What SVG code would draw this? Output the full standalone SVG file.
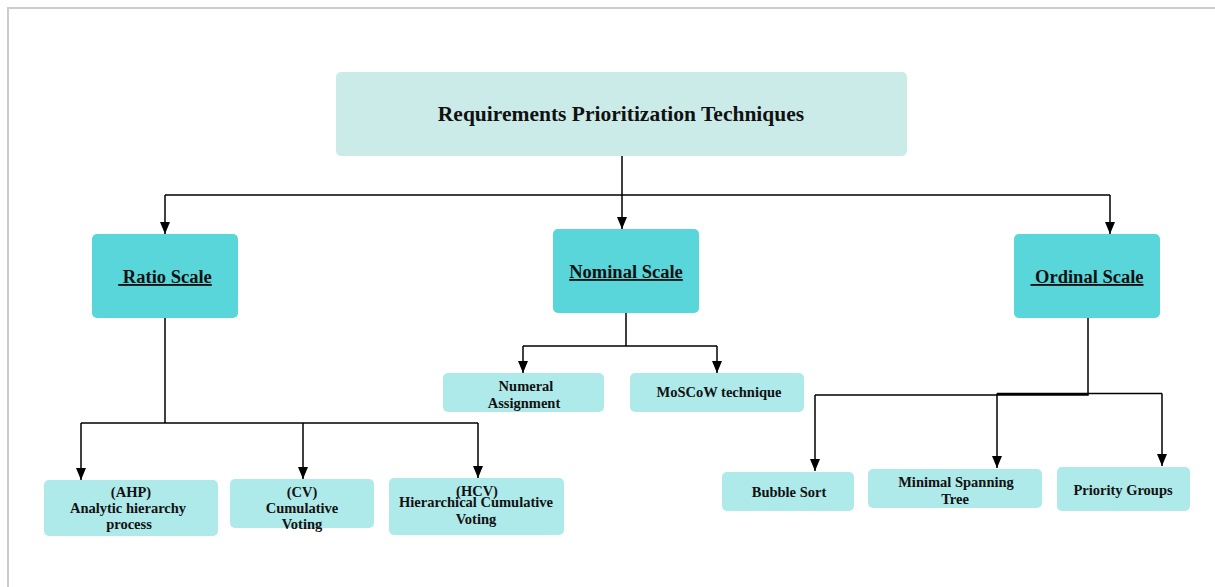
<svg xmlns="http://www.w3.org/2000/svg" width="1215" height="587" viewBox="0 0 1215 587">
  <defs>
    <marker id="arrow" viewBox="0 0 12 10" refX="12" refY="5" markerWidth="12" markerHeight="10" markerUnits="userSpaceOnUse" orient="auto">
      <path d="M0,0 L12,5 L0,10 z" fill="#000"/>
    </marker>
    <style>
      .frame { fill: none; stroke: #cccccc; stroke-width: 2; }
      .root { fill: #cbebe8; }
      .scale { fill: #59d6da; }
      .leaf { fill: #aeeaea; }
      text { font-family: "Liberation Serif", "DejaVu Serif", serif; font-weight: bold; fill: #111; text-anchor: middle; }
      .t-root { font-size: 21.5px; }
      .t-scale { font-size: 18.5px; text-decoration: underline; }
      .t-leaf { font-size: 14.5px; }
      .wire { fill: none; stroke: #000; stroke-width: 1.5; }
      .arr { fill: none; stroke: #000; stroke-width: 1.5; marker-end: url(#arrow); }
    </style>
  </defs>

  <rect width="1215" height="587" fill="#ffffff"/>
  <path class="frame" d="M8,587 V8 H1215"/>

  <!-- connectors: trunk lines, then one arrow per child -->
  <g id="connectors">
    <path class="wire" d="M622,156 V195 M165,195 H1110"/>
    <path class="arr" d="M165,195 V234"/>
    <path class="arr" d="M622,195 V229"/>
    <path class="arr" d="M1110,195 V234"/>

    <path class="wire" d="M165,318 V423 M81,423 H478"/>
    <path class="arr" d="M81,423 V480"/>
    <path class="arr" d="M303,423 V479"/>
    <path class="arr" d="M478,423 V478"/>

    <path class="wire" d="M626,313 V346 M523,346 H717"/>
    <path class="arr" d="M523,346 V373"/>
    <path class="arr" d="M717,346 V373"/>

    <path class="wire" d="M1088,318 V395 H815 M997,393.5 H1162"/>
    <path class="arr" d="M815,395 V471"/>
    <path class="arr" d="M997,393.5 V468"/>
    <path class="arr" d="M1162,393.5 V466"/>
  </g>

  <g id="root">
    <rect class="root" x="336" y="72" width="571" height="84" rx="5"/>
    <text class="t-root" x="621" y="121">Requirements Prioritization Techniques</text>
  </g>

  <g id="ratio-scale">
    <rect class="scale" x="92" y="234" width="146" height="84" rx="5"/>
    <text class="t-scale" x="165" y="283" xml:space="preserve"> Ratio Scale</text>
  </g>
  <g id="nominal-scale">
    <rect class="scale" x="553" y="229" width="146" height="84" rx="5"/>
    <text class="t-scale" x="626" y="278">Nominal Scale</text>
  </g>
  <g id="ordinal-scale">
    <rect class="scale" x="1014" y="234" width="146" height="84" rx="5"/>
    <text class="t-scale" x="1087" y="283" xml:space="preserve"> Ordinal Scale</text>
  </g>

  <g id="ahp">
    <rect class="leaf" x="44" y="480" width="174" height="56" rx="5"/>
    <text class="t-leaf" x="131" y="497">(AHP)</text>
    <text class="t-leaf" x="128" y="513">Analytic hierarchy</text>
    <text class="t-leaf" x="129" y="529">process</text>
  </g>
  <g id="cv">
    <rect class="leaf" x="230" y="479" width="144" height="49" rx="5"/>
    <text class="t-leaf" x="302" y="497">(CV)</text>
    <text class="t-leaf" x="302" y="513">Cumulative</text>
    <text class="t-leaf" x="302" y="529">Voting</text>
  </g>
  <g id="hcv">
    <rect class="leaf" x="389" y="478" width="175" height="57" rx="5"/>
    <text class="t-leaf" x="477" y="496">(HCV)</text>
    <text class="t-leaf" x="476" y="507">Hierarchical Cumulative</text>
    <text class="t-leaf" x="476" y="524">Voting</text>
  </g>

  <g id="numeral-assignment">
    <rect class="leaf" x="443" y="373" width="161" height="39" rx="5"/>
    <text class="t-leaf" x="526" y="391">Numeral</text>
    <text class="t-leaf" x="524" y="408">Assignment</text>
  </g>
  <g id="moscow">
    <rect class="leaf" x="630" y="373" width="174" height="39" rx="5"/>
    <text class="t-leaf" x="719" y="397">MoSCoW technique</text>
  </g>

  <g id="bubble-sort">
    <rect class="leaf" x="722" y="472" width="132" height="39" rx="5"/>
    <text class="t-leaf" x="789" y="497">Bubble Sort</text>
  </g>
  <g id="minimal-spanning-tree">
    <rect class="leaf" x="868" y="469" width="174" height="39" rx="5"/>
    <text class="t-leaf" x="956" y="487">Minimal Spanning</text>
    <text class="t-leaf" x="955" y="504">Tree</text>
  </g>
  <g id="priority-groups">
    <rect class="leaf" x="1057" y="467" width="133" height="44" rx="5"/>
    <text class="t-leaf" x="1123" y="495">Priority Groups</text>
  </g>
</svg>
